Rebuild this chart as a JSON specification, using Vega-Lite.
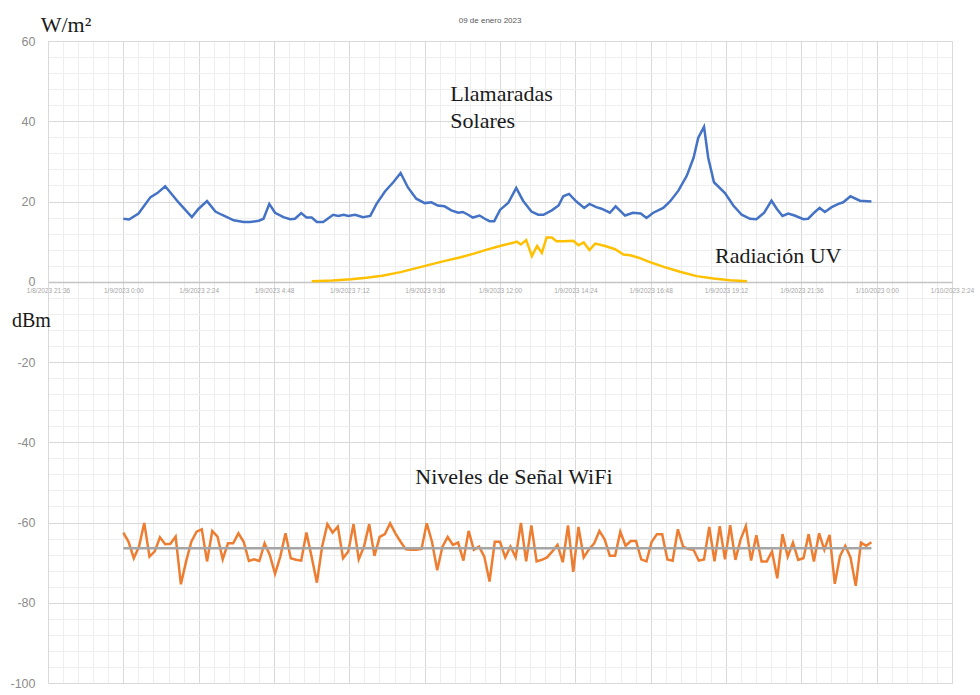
{
  "$schema": "https://vega.github.io/schema/vega-lite/v6.json",
  "width": 904,
  "height": 642,
  "autosize": {"type": "none"},
  "padding": {"left": 48, "top": 41, "right": 28, "bottom": 12},
  "background": "white",
  "config": {"view": {"stroke": null}},
  "datasets": {
    "solar": [
      {"t":"2023-01-09T00:00:00Z","v":15.7},{"t":"2023-01-09T00:11:00Z","v":15.5},{"t":"2023-01-09T00:29:00Z","v":17.0},{"t":"2023-01-09T00:52:00Z","v":21.1},{"t":"2023-01-09T01:05:00Z","v":22.1},{"t":"2023-01-09T01:20:00Z","v":23.8},{"t":"2023-01-09T01:46:00Z","v":19.7},{"t":"2023-01-09T02:11:00Z","v":16.1},{"t":"2023-01-09T02:24:00Z","v":18.2},{"t":"2023-01-09T02:40:00Z","v":20.1},{"t":"2023-01-09T02:56:00Z","v":17.5},{"t":"2023-01-09T03:08:00Z","v":16.7},{"t":"2023-01-09T03:31:00Z","v":15.3},{"t":"2023-01-09T03:50:00Z","v":14.9},{"t":"2023-01-09T04:02:00Z","v":14.9},{"t":"2023-01-09T04:19:00Z","v":15.2},{"t":"2023-01-09T04:28:00Z","v":15.7},{"t":"2023-01-09T04:39:00Z","v":19.4},{"t":"2023-01-09T04:50:00Z","v":17.2},{"t":"2023-01-09T05:06:00Z","v":16.1},{"t":"2023-01-09T05:19:00Z","v":15.6},{"t":"2023-01-09T05:28:00Z","v":15.7},{"t":"2023-01-09T05:40:00Z","v":17.1},{"t":"2023-01-09T05:50:00Z","v":16.0},{"t":"2023-01-09T06:00:00Z","v":16.0},{"t":"2023-01-09T06:10:00Z","v":14.9},{"t":"2023-01-09T06:22:00Z","v":14.9},{"t":"2023-01-09T06:41:00Z","v":16.7},{"t":"2023-01-09T06:51:00Z","v":16.4},{"t":"2023-01-09T07:01:00Z","v":16.7},{"t":"2023-01-09T07:10:00Z","v":16.4},{"t":"2023-01-09T07:23:00Z","v":16.7},{"t":"2023-01-09T07:38:00Z","v":16.1},{"t":"2023-01-09T07:52:00Z","v":16.4},{"t":"2023-01-09T08:04:00Z","v":19.4},{"t":"2023-01-09T08:20:00Z","v":22.5},{"t":"2023-01-09T08:36:00Z","v":24.8},{"t":"2023-01-09T08:50:00Z","v":27.1},{"t":"2023-01-09T09:04:00Z","v":23.5},{"t":"2023-01-09T09:20:00Z","v":20.7},{"t":"2023-01-09T09:36:00Z","v":19.6},{"t":"2023-01-09T09:49:00Z","v":19.8},{"t":"2023-01-09T10:01:00Z","v":19.0},{"t":"2023-01-09T10:14:00Z","v":18.8},{"t":"2023-01-09T10:27:00Z","v":17.8},{"t":"2023-01-09T10:40:00Z","v":17.2},{"t":"2023-01-09T10:49:00Z","v":17.4},{"t":"2023-01-09T10:59:00Z","v":16.7},{"t":"2023-01-09T11:08:00Z","v":16.0},{"t":"2023-01-09T11:21:00Z","v":16.5},{"t":"2023-01-09T11:31:00Z","v":15.7},{"t":"2023-01-09T11:40:00Z","v":15.1},{"t":"2023-01-09T11:49:00Z","v":15.1},{"t":"2023-01-09T12:00:00Z","v":17.9},{"t":"2023-01-09T12:16:00Z","v":19.7},{"t":"2023-01-09T12:31:00Z","v":23.4},{"t":"2023-01-09T12:44:00Z","v":20.2},{"t":"2023-01-09T13:00:00Z","v":17.5},{"t":"2023-01-09T13:13:00Z","v":16.7},{"t":"2023-01-09T13:23:00Z","v":16.7},{"t":"2023-01-09T13:39:00Z","v":17.8},{"t":"2023-01-09T13:52:00Z","v":19.0},{"t":"2023-01-09T14:01:00Z","v":21.3},{"t":"2023-01-09T14:12:00Z","v":21.9},{"t":"2023-01-09T14:26:00Z","v":20.0},{"t":"2023-01-09T14:41:00Z","v":18.4},{"t":"2023-01-09T14:51:00Z","v":19.4},{"t":"2023-01-09T15:04:00Z","v":18.6},{"t":"2023-01-09T15:14:00Z","v":18.2},{"t":"2023-01-09T15:30:00Z","v":17.2},{"t":"2023-01-09T15:41:00Z","v":18.8},{"t":"2023-01-09T15:59:00Z","v":16.5},{"t":"2023-01-09T16:14:00Z","v":17.2},{"t":"2023-01-09T16:29:00Z","v":17.0},{"t":"2023-01-09T16:40:00Z","v":15.9},{"t":"2023-01-09T16:53:00Z","v":17.2},{"t":"2023-01-09T17:12:00Z","v":18.4},{"t":"2023-01-09T17:25:00Z","v":20.0},{"t":"2023-01-09T17:41:00Z","v":22.7},{"t":"2023-01-09T17:57:00Z","v":26.4},{"t":"2023-01-09T18:10:00Z","v":30.9},{"t":"2023-01-09T18:19:00Z","v":35.9},{"t":"2023-01-09T18:30:00Z","v":38.6},{"t":"2023-01-09T18:38:00Z","v":30.9},{"t":"2023-01-09T18:49:00Z","v":24.8},{"t":"2023-01-09T19:10:00Z","v":22.1},{"t":"2023-01-09T19:26:00Z","v":19.0},{"t":"2023-01-09T19:42:00Z","v":16.7},{"t":"2023-01-09T19:58:00Z","v":15.7},{"t":"2023-01-09T20:10:00Z","v":15.6},{"t":"2023-01-09T20:25:00Z","v":17.2},{"t":"2023-01-09T20:39:00Z","v":20.2},{"t":"2023-01-09T20:49:00Z","v":18.2},{"t":"2023-01-09T21:00:00Z","v":16.4},{"t":"2023-01-09T21:11:00Z","v":17.0},{"t":"2023-01-09T21:23:00Z","v":16.5},{"t":"2023-01-09T21:40:00Z","v":15.6},{"t":"2023-01-09T21:49:00Z","v":15.7},{"t":"2023-01-09T22:02:00Z","v":17.4},{"t":"2023-01-09T22:11:00Z","v":18.4},{"t":"2023-01-09T22:21:00Z","v":17.4},{"t":"2023-01-09T22:34:00Z","v":18.6},{"t":"2023-01-09T22:47:00Z","v":19.4},{"t":"2023-01-09T22:56:00Z","v":19.8},{"t":"2023-01-09T23:10:00Z","v":21.3},{"t":"2023-01-09T23:28:00Z","v":20.2},{"t":"2023-01-09T23:50:00Z","v":20.0}
    ],
    "uv": [
      {"t":"2023-01-09T06:00:00Z","v":0.1},{"t":"2023-01-09T06:40:00Z","v":0.3},{"t":"2023-01-09T07:15:00Z","v":0.6},{"t":"2023-01-09T07:45:00Z","v":1.0},{"t":"2023-01-09T08:15:00Z","v":1.5},{"t":"2023-01-09T08:50:00Z","v":2.4},{"t":"2023-01-09T09:20:00Z","v":3.4},{"t":"2023-01-09T09:50:00Z","v":4.4},{"t":"2023-01-09T10:15:00Z","v":5.2},{"t":"2023-01-09T10:45:00Z","v":6.1},{"t":"2023-01-09T11:10:00Z","v":7.0},{"t":"2023-01-09T11:35:00Z","v":8.0},{"t":"2023-01-09T12:00:00Z","v":8.9},{"t":"2023-01-09T12:25:00Z","v":9.7},{"t":"2023-01-09T12:32:00Z","v":10.0},{"t":"2023-01-09T12:40:00Z","v":9.3},{"t":"2023-01-09T12:50:00Z","v":10.4},{"t":"2023-01-09T13:01:00Z","v":6.4},{"t":"2023-01-09T13:11:00Z","v":8.9},{"t":"2023-01-09T13:20:00Z","v":7.2},{"t":"2023-01-09T13:29:00Z","v":11.0},{"t":"2023-01-09T13:39:00Z","v":11.0},{"t":"2023-01-09T13:48:00Z","v":10.1},{"t":"2023-01-09T14:01:00Z","v":10.1},{"t":"2023-01-09T14:20:00Z","v":10.2},{"t":"2023-01-09T14:30:00Z","v":9.1},{"t":"2023-01-09T14:40:00Z","v":9.8},{"t":"2023-01-09T14:51:00Z","v":7.9},{"t":"2023-01-09T15:02:00Z","v":9.5},{"t":"2023-01-09T15:21:00Z","v":8.9},{"t":"2023-01-09T15:40:00Z","v":8.1},{"t":"2023-01-09T15:56:00Z","v":6.8},{"t":"2023-01-09T16:09:00Z","v":6.6},{"t":"2023-01-09T16:25:00Z","v":6.0},{"t":"2023-01-09T16:44:00Z","v":5.0},{"t":"2023-01-09T17:13:00Z","v":3.7},{"t":"2023-01-09T17:44:00Z","v":2.5},{"t":"2023-01-09T18:16:00Z","v":1.4},{"t":"2023-01-09T18:48:00Z","v":0.8},{"t":"2023-01-09T19:20:00Z","v":0.4},{"t":"2023-01-09T19:52:00Z","v":0.1}
    ],
    "wifi": [
      {"t":"2023-01-09T00:00:00Z","v":-62.5},{"t":"2023-01-09T00:10:00Z","v":-64.8},{"t":"2023-01-09T00:20:00Z","v":-68.9},{"t":"2023-01-09T00:30:00Z","v":-66.0},{"t":"2023-01-09T00:40:00Z","v":-60.1},{"t":"2023-01-09T00:50:00Z","v":-68.5},
      {"t":"2023-01-09T01:00:00Z","v":-67.2},{"t":"2023-01-09T01:10:00Z","v":-63.7},{"t":"2023-01-09T01:20:00Z","v":-65.4},{"t":"2023-01-09T01:30:00Z","v":-65.3},{"t":"2023-01-09T01:40:00Z","v":-63.5},{"t":"2023-01-09T01:50:00Z","v":-75.4},
      {"t":"2023-01-09T02:00:00Z","v":-69.7},{"t":"2023-01-09T02:10:00Z","v":-64.8},{"t":"2023-01-09T02:20:00Z","v":-62.3},{"t":"2023-01-09T02:30:00Z","v":-61.7},{"t":"2023-01-09T02:40:00Z","v":-69.7},{"t":"2023-01-09T02:50:00Z","v":-62.1},
      {"t":"2023-01-09T03:00:00Z","v":-63.5},{"t":"2023-01-09T03:10:00Z","v":-69.2},{"t":"2023-01-09T03:20:00Z","v":-65.2},{"t":"2023-01-09T03:30:00Z","v":-65.2},{"t":"2023-01-09T03:40:00Z","v":-62.7},{"t":"2023-01-09T03:50:00Z","v":-64.8},
      {"t":"2023-01-09T04:00:00Z","v":-69.6},{"t":"2023-01-09T04:10:00Z","v":-69.2},{"t":"2023-01-09T04:20:00Z","v":-69.6},{"t":"2023-01-09T04:30:00Z","v":-65.2},{"t":"2023-01-09T04:40:00Z","v":-68.1},{"t":"2023-01-09T04:50:00Z","v":-72.8},
      {"t":"2023-01-09T05:00:00Z","v":-68.5},{"t":"2023-01-09T05:10:00Z","v":-62.7},{"t":"2023-01-09T05:20:00Z","v":-68.9},{"t":"2023-01-09T05:30:00Z","v":-69.3},{"t":"2023-01-09T05:40:00Z","v":-69.5},{"t":"2023-01-09T05:50:00Z","v":-62.5},
      {"t":"2023-01-09T06:00:00Z","v":-68.6},{"t":"2023-01-09T06:10:00Z","v":-75.0},{"t":"2023-01-09T06:20:00Z","v":-66.0},{"t":"2023-01-09T06:30:00Z","v":-60.4},{"t":"2023-01-09T06:40:00Z","v":-62.5},{"t":"2023-01-09T06:50:00Z","v":-61.0},
      {"t":"2023-01-09T07:00:00Z","v":-68.9},{"t":"2023-01-09T07:10:00Z","v":-67.2},{"t":"2023-01-09T07:20:00Z","v":-60.4},{"t":"2023-01-09T07:30:00Z","v":-69.2},{"t":"2023-01-09T07:40:00Z","v":-66.0},{"t":"2023-01-09T07:50:00Z","v":-60.4},
      {"t":"2023-01-09T08:00:00Z","v":-68.3},{"t":"2023-01-09T08:10:00Z","v":-63.6},{"t":"2023-01-09T08:20:00Z","v":-62.9},{"t":"2023-01-09T08:30:00Z","v":-60.2},{"t":"2023-01-09T08:40:00Z","v":-62.7},{"t":"2023-01-09T08:50:00Z","v":-64.8},
      {"t":"2023-01-09T09:00:00Z","v":-66.7},{"t":"2023-01-09T09:10:00Z","v":-66.8},{"t":"2023-01-09T09:20:00Z","v":-66.8},{"t":"2023-01-09T09:30:00Z","v":-66.6},{"t":"2023-01-09T09:40:00Z","v":-60.2},{"t":"2023-01-09T09:50:00Z","v":-64.8},
      {"t":"2023-01-09T10:00:00Z","v":-71.9},{"t":"2023-01-09T10:10:00Z","v":-66.0},{"t":"2023-01-09T10:20:00Z","v":-63.6},{"t":"2023-01-09T10:30:00Z","v":-65.6},{"t":"2023-01-09T10:40:00Z","v":-65.0},{"t":"2023-01-09T10:50:00Z","v":-69.5},
      {"t":"2023-01-09T11:00:00Z","v":-62.1},{"t":"2023-01-09T11:10:00Z","v":-66.8},{"t":"2023-01-09T11:20:00Z","v":-66.0},{"t":"2023-01-09T11:30:00Z","v":-68.5},{"t":"2023-01-09T11:40:00Z","v":-74.7},{"t":"2023-01-09T11:50:00Z","v":-64.8},
      {"t":"2023-01-09T12:00:00Z","v":-64.8},{"t":"2023-01-09T12:10:00Z","v":-68.7},{"t":"2023-01-09T12:20:00Z","v":-66.0},{"t":"2023-01-09T12:30:00Z","v":-68.7},{"t":"2023-01-09T12:40:00Z","v":-60.1},{"t":"2023-01-09T12:50:00Z","v":-69.7},
      {"t":"2023-01-09T13:00:00Z","v":-60.7},{"t":"2023-01-09T13:10:00Z","v":-69.7},{"t":"2023-01-09T13:20:00Z","v":-69.3},{"t":"2023-01-09T13:30:00Z","v":-68.7},{"t":"2023-01-09T13:40:00Z","v":-67.2},{"t":"2023-01-09T13:50:00Z","v":-65.6},
      {"t":"2023-01-09T14:00:00Z","v":-69.9},{"t":"2023-01-09T14:10:00Z","v":-60.7},{"t":"2023-01-09T14:20:00Z","v":-72.3},{"t":"2023-01-09T14:30:00Z","v":-61.1},{"t":"2023-01-09T14:40:00Z","v":-68.7},{"t":"2023-01-09T14:50:00Z","v":-66.7},
      {"t":"2023-01-09T15:00:00Z","v":-65.2},{"t":"2023-01-09T15:10:00Z","v":-62.1},{"t":"2023-01-09T15:20:00Z","v":-64.2},{"t":"2023-01-09T15:30:00Z","v":-68.3},{"t":"2023-01-09T15:40:00Z","v":-68.3},{"t":"2023-01-09T15:50:00Z","v":-62.3},
      {"t":"2023-01-09T16:00:00Z","v":-65.8},{"t":"2023-01-09T16:10:00Z","v":-64.6},{"t":"2023-01-09T16:20:00Z","v":-64.6},{"t":"2023-01-09T16:30:00Z","v":-69.2},{"t":"2023-01-09T16:40:00Z","v":-69.7},{"t":"2023-01-09T16:50:00Z","v":-64.8},
      {"t":"2023-01-09T17:00:00Z","v":-62.9},{"t":"2023-01-09T17:10:00Z","v":-62.9},{"t":"2023-01-09T17:20:00Z","v":-69.2},{"t":"2023-01-09T17:30:00Z","v":-69.5},{"t":"2023-01-09T17:40:00Z","v":-61.7},{"t":"2023-01-09T17:50:00Z","v":-66.0},
      {"t":"2023-01-09T18:00:00Z","v":-66.6},{"t":"2023-01-09T18:10:00Z","v":-66.8},{"t":"2023-01-09T18:20:00Z","v":-69.5},{"t":"2023-01-09T18:30:00Z","v":-69.2},{"t":"2023-01-09T18:40:00Z","v":-61.1},{"t":"2023-01-09T18:50:00Z","v":-69.7},
      {"t":"2023-01-09T19:00:00Z","v":-60.9},{"t":"2023-01-09T19:10:00Z","v":-69.2},{"t":"2023-01-09T19:20:00Z","v":-60.7},{"t":"2023-01-09T19:30:00Z","v":-69.3},{"t":"2023-01-09T19:40:00Z","v":-64.2},{"t":"2023-01-09T19:50:00Z","v":-60.9},
      {"t":"2023-01-09T20:00:00Z","v":-69.5},{"t":"2023-01-09T20:10:00Z","v":-63.2},{"t":"2023-01-09T20:20:00Z","v":-69.7},{"t":"2023-01-09T20:30:00Z","v":-69.7},{"t":"2023-01-09T20:40:00Z","v":-67.2},{"t":"2023-01-09T20:50:00Z","v":-73.9},
      {"t":"2023-01-09T21:00:00Z","v":-62.9},{"t":"2023-01-09T21:10:00Z","v":-68.5},{"t":"2023-01-09T21:20:00Z","v":-65.0},{"t":"2023-01-09T21:30:00Z","v":-69.3},{"t":"2023-01-09T21:40:00Z","v":-68.9},{"t":"2023-01-09T21:50:00Z","v":-62.9},
      {"t":"2023-01-09T22:00:00Z","v":-69.7},{"t":"2023-01-09T22:10:00Z","v":-62.7},{"t":"2023-01-09T22:20:00Z","v":-66.8},{"t":"2023-01-09T22:30:00Z","v":-63.1},{"t":"2023-01-09T22:40:00Z","v":-75.3},{"t":"2023-01-09T22:50:00Z","v":-68.3},
      {"t":"2023-01-09T23:00:00Z","v":-65.8},{"t":"2023-01-09T23:10:00Z","v":-68.7},{"t":"2023-01-09T23:20:00Z","v":-75.8},{"t":"2023-01-09T23:30:00Z","v":-65.0},{"t":"2023-01-09T23:40:00Z","v":-65.8},{"t":"2023-01-09T23:50:00Z","v":-64.9}
    ],
    "mean": [
      {"t":"2023-01-09T00:00:00Z","v":-66.4},{"t":"2023-01-09T23:50:00Z","v":-66.4}
    ],
    "notes": [
      {"t":"2023-01-09T10:25:00Z","v":45.0,"label":"Llamaradas"},
      {"t":"2023-01-09T10:25:00Z","v":38.3,"label":"Solares"},
      {"t":"2023-01-09T18:51:00Z","v":4.6,"label":"Radiación UV"},
      {"t":"2023-01-09T09:18:00Z","v":-50.5,"label":"Niveles de Señal WiFi"},
      {"t":"2023-01-08T21:22:00Z","v":62.2,"label":"W/m²"}
    ],
    "units": [
      {"t":"2023-01-08T20:27:00Z","v":-11.4,"label":"dBm"}
    ],
    "heading": [
      {"t":"2023-01-09T11:41:00Z","v":64.5,"label":"09 de enero 2023"}
    ]
  },
  "encoding": {
    "x": {
      "field": "t", "type": "temporal",
      "scale": {"type": "utc", "domain": [{"year": 2023, "month": 1, "date": 8, "hours": 21, "minutes": 36, "utc": true}, {"year": 2023, "month": 1, "date": 10, "hours": 2, "minutes": 24, "utc": true}], "nice": false},
      "axis": {
        "orient": "bottom", "offset": -401, "title": null,
        "values": [1673213760000,1673215488000,1673217216000,1673218944000,1673220672000,1673222400000,1673224128000,1673225856000,1673227584000,1673229312000,1673231040000,1673232768000,1673234496000,1673236224000,1673237952000,1673239680000,1673241408000,1673243136000,1673244864000,1673246592000,1673248320000,1673250048000,1673251776000,1673253504000,1673255232000,1673256960000,1673258688000,1673260416000,1673262144000,1673263872000,1673265600000,1673267328000,1673269056000,1673270784000,1673272512000,1673274240000,1673275968000,1673277696000,1673279424000,1673281152000,1673282880000,1673284608000,1673286336000,1673288064000,1673289792000,1673291520000,1673293248000,1673294976000,1673296704000,1673298432000,1673300160000,1673301888000,1673303616000,1673305344000,1673307072000,1673308800000,1673310528000,1673312256000,1673313984000,1673315712000,1673317440000],
        "labelExpr": "(datum.value - 1673213760000) % 8640000 === 0 ? utcFormat(datum.value, '%-m/%-d/%Y %-H:%M') : ''",
        "labelOverlap": false, "labelFlush": false, "labelBound": false,
        "labelFontSize": 6.5, "labelColor": "#a6a6a6", "labelFont": "Liberation Sans", "labelPadding": 5,
        "ticks": false,
        "domain": true, "domainColor": "#c4c4c4", "domainWidth": 1.5,
        "grid": true,
        "gridColor": {"condition": {"test": "(datum.value - 1673213760000) % 8640000 === 0", "value": "#d9d9d9"}, "value": "#eeeeee"},
        "gridWidth": 1
      }
    },
    "y": {
      "field": "v", "type": "quantitative",
      "scale": {"domain": [-100, 60], "nice": false, "zero": false},
      "axis": {
        "orient": "left", "title": null,
        "values": [-100,-96,-92,-88,-84,-80,-76,-72,-68,-64,-60,-56,-52,-48,-44,-40,-36,-32,-28,-24,-20,-16,-12,-8,-4,0,4,8,12,16,20,24,28,32,36,40,44,48,52,56,60],
        "labelExpr": "datum.value % 20 === 0 ? '' + datum.value : ''",
        "labelOverlap": false, "labelFlush": false,
        "labelFontSize": 12.5, "labelColor": "#8c8c8c", "labelFont": "Liberation Sans", "labelPadding": 13,
        "ticks": false,
        "domain": true, "domainColor": "#d9d9d9",
        "grid": true,
        "gridColor": {"condition": {"test": "datum.value % 20 === 0", "value": "#d9d9d9"}, "value": "#eeeeee"},
        "gridWidth": 1
      }
    }
  },
  "layer": [
    {"data": {"name": "wifi"}, "mark": {"type": "line", "color": "#ED7D31", "strokeWidth": 2.5}},
    {"data": {"name": "mean"}, "mark": {"type": "line", "color": "#A5A5A5", "strokeWidth": 2.5}},
    {"data": {"name": "solar"}, "mark": {"type": "line", "color": "#4472C4", "strokeWidth": 2.5}},
    {"data": {"name": "uv"}, "mark": {"type": "line", "color": "#FFC000", "strokeWidth": 2.5}},
    {"data": {"name": "notes"}, "mark": {"type": "text", "align": "left", "baseline": "alphabetic", "font": "Liberation Serif", "fontSize": 22, "color": "#1a1a1a"}, "encoding": {"text": {"field": "label"}}},
    {"data": {"name": "units"}, "mark": {"type": "text", "align": "left", "baseline": "alphabetic", "font": "Liberation Serif", "fontSize": 20, "color": "#1a1a1a"}, "encoding": {"text": {"field": "label"}}},
    {"data": {"name": "heading"}, "mark": {"type": "text", "align": "center", "baseline": "alphabetic", "font": "Liberation Sans", "fontSize": 8, "color": "#595959"}, "encoding": {"text": {"field": "label"}}}
  ]
}
